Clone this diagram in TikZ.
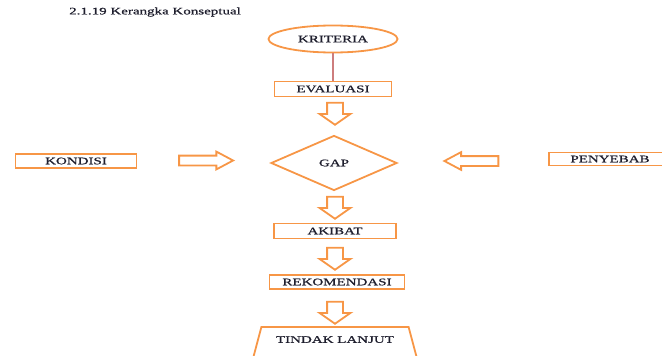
\documentclass[tikz,border=0pt]{standalone}
\usepackage{fontspec}
\usepackage{xcolor}
\usepackage{tikz}
\usetikzlibrary{calc}
\usetikzlibrary{shapes,arrows,positioning}
\usetikzlibrary{shapes.geometric}
\usetikzlibrary{shapes.arrows}
\newfontfamily\kfont[FakeStretch=1.5,FakeBold=0.8]{Liberation Serif}
\definecolor{oranye}{RGB}{247,150,70}
\definecolor{merah}{RGB}{205,125,125}
\definecolor{tinta}{RGB}{30,30,45}
\tikzset{
	kotak/.style={draw=oranye,line width=1.8pt,inner sep=0pt,text=tinta,font=\kfont\fontsize{10}{10}\selectfont},
	panahbawah/.style={single arrow,draw=oranye,line width=1.8pt,inner sep=7pt,single arrow head extend=7.5pt,single arrow tip angle=110,minimum height=22pt,shape border rotate=270},
	panahsamping/.style={single arrow,draw=oranye,line width=1.8pt,inner sep=4pt,single arrow head extend=4pt,single arrow tip angle=56,minimum height=54pt},
}

\begin{document}
\begin{tikzpicture}[x=1pt,y=-1pt]
	\useasboundingbox (0,0) rectangle (662,356);
	\clip (0,0) rectangle (662,356);
	\node[text=tinta,font=\kfont\fontsize{10}{10}\selectfont] (judul) at (155,12) {2.1.19 Kerangka Konseptual};
	\node[kotak,ellipse,minimum width=129pt,minimum height=27pt] (kriteria) at (333,39) {KRITERIA};
	\node[kotak,minimum width=117pt,minimum height=15pt] (evaluasi) at (333,89) {EVALUASI};
	\draw[merah,line width=1.2pt] (kriteria) -- (evaluasi);
	\node[kotak,diamond,minimum width=126pt,minimum height=55pt] (gap) at (334,163) {GAP};
	\node[kotak,minimum width=121pt,minimum height=14pt] (kondisi) at (76,161) {KONDISI};
	\node[kotak,minimum width=122pt,minimum height=13pt] (penyebab) at (610,159) {PENYEBAB};
	\node[kotak,minimum width=122pt,minimum height=15pt] (akibat) at (335,231) {AKIBAT};
	\node[kotak,minimum width=135pt,minimum height=14pt] (rekomendasi) at (337,282) {REKOMENDASI};
	\node[kotak,trapezium,trapezium left angle=68,trapezium right angle=68,trapezium stretches,minimum width=168pt,minimum height=39pt,text depth=14pt] (tindak) at (335,346.5) {TINDAK LANJUT};
	\node[panahbawah] (p1) at (335,111) {};
	\node[panahbawah] (p2) at (335,205) {};
	\node[panahbawah] (p3) at (335,256) {};
	\node[panahbawah] (p4) at (335,310) {};
	\node[panahsamping] (pkanan) at (201.5,160.5) {};
	\node[panahsamping,shape border rotate=180] (pkiri) at (476,161) {};
\end{tikzpicture}
\end{document}
